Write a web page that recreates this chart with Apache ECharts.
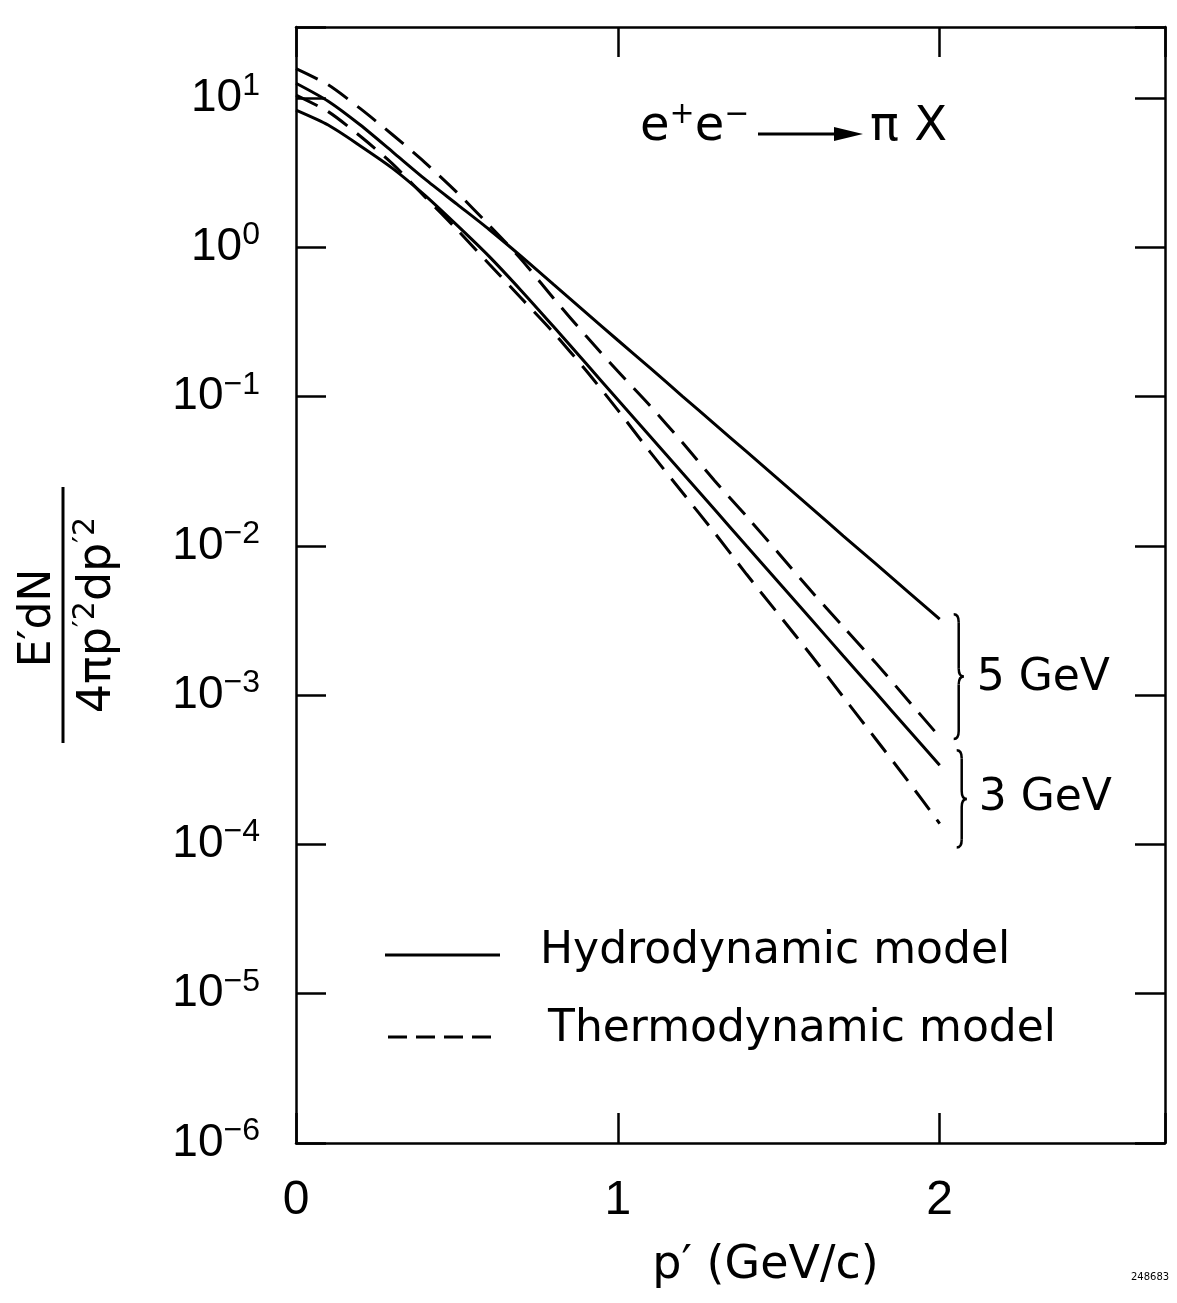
<!DOCTYPE html>
<html>
<head>
<meta charset="utf-8">
<script src="https://cdn.jsdelivr.net/npm/echarts@6.0.0/dist/echarts.min.js"></script>
<style>
  html, body { margin: 0; padding: 0; background: #fff; }
  #chart { width: 1177px; height: 1303px; }
</style>
</head>
<body>
<div id="chart"></div>
<script>
// p' in GeV/c
const momentum = [0, 0.1, 0.2, 0.3, 0.4, 0.5, 0.6, 0.7, 0.8, 0.9, 1.0,
                  1.1, 1.2, 1.3, 1.4, 1.5, 1.6, 1.7, 1.8, 1.9, 2.0];

// E'dN / 4πp'^2 dp'^2
const hydro5GeV = [12.6, 9.55, 6.61, 4.37, 2.88, 1.95, 1.32, 0.871, 0.566, 0.368, 0.239,
                   0.156, 0.101, 0.0658, 0.0428, 0.0278, 0.0181, 0.0117, 0.00764, 0.00497, 0.00323];
const thermo5GeV = [15.8, 12.3, 8.51, 5.69, 3.72, 2.34, 1.41, 0.832, 0.457, 0.257, 0.148,
                    0.0871, 0.0495, 0.0275, 0.0158, 0.00891, 0.00501, 0.00288, 0.00166, 0.000933, 0.000525];
const hydro3GeV = [8.32, 6.61, 4.79, 3.39, 2.24, 1.41, 0.871, 0.513, 0.295, 0.168, 0.0955,
                   0.0543, 0.0309, 0.0176, 0.0100, 0.00569, 0.00324, 0.00184, 0.00105, 0.000596, 0.000339];
const thermo3GeV = [10.5, 8.13, 5.56, 3.63, 2.19, 1.32, 0.776, 0.457, 0.269, 0.151, 0.0813,
                    0.0427, 0.0229, 0.0123, 0.00646, 0.00347, 0.00186, 0.000977, 0.000513, 0.000269, 0.000138];

const xRange = [0, 2.7];
const yRange = [1e-6, 30];

const legendLabels = ['Hydrodynamic model', 'Thermodynamic model'];
const energyLabels = ['5 GeV', '3 GeV'];
const xAxisTitle = 'p\u2032 (GeV/c)';

const NUM_FONT = "'Liberation Sans', sans-serif";
const TXT_FONT = "'DejaVu Sans', sans-serif";
const INK = '#000';

const axisLine = { show: true, onZero: false, lineStyle: { color: INK, width: 2.5 } };
const axisTick = { show: true, inside: true, length: 30, lineStyle: { color: INK, width: 2.5 } };

function powerLabel(v) {
  const e = Math.log10(v);
  const n = Math.round(e);
  if (Math.abs(e - n) > 1e-6) return '';
  const exp = n < 0 ? '\u2212' + (-n) : String(n);
  return '{b|10}{s|' + exp + '}';
}

function curve(name, values, dashed) {
  return {
    type: 'line',
    name: name,
    data: momentum.map((p, i) => [p, values[i]]),
    showSymbol: false,
    symbol: 'none',
    smooth: 0.25,
    silent: true,
    lineStyle: { color: INK, width: 3, type: dashed ? [24, 12] : 'solid', cap: 'butt' }
  };
}

const chart = echarts.init(document.getElementById('chart'), null, { renderer: 'canvas' });

chart.setOption({
  animation: false,
  backgroundColor: '#fff',
  grid: { left: 296, right: 12, top: 27, bottom: 160, containLabel: false },
  xAxis: [
    {
      type: 'value', min: xRange[0], max: xRange[1], interval: 1, position: 'bottom',
      axisLine: axisLine, axisTick: axisTick, splitLine: { show: false },
      axisLabel: {
        show: true, margin: 34, color: INK, fontSize: 48, fontFamily: NUM_FONT,
        formatter: v => (Number.isInteger(v) ? String(v) : '')
      },
      name: xAxisTitle, nameLocation: 'middle', nameGap: 100,
      nameTextStyle: { color: INK, fontSize: 46, fontFamily: TXT_FONT, padding: [0, 0, 0, 70] }
    },
    {
      type: 'value', min: xRange[0], max: xRange[1], interval: 1, position: 'top',
      axisLine: axisLine, axisTick: axisTick, splitLine: { show: false },
      axisLabel: { show: false }
    }
  ],
  yAxis: [
    {
      type: 'log', logBase: 10, min: yRange[0], max: yRange[1], position: 'left',
      axisLine: axisLine, axisTick: axisTick, splitLine: { show: false },
      minorTick: { show: false },
      axisLabel: {
        show: true, margin: 36, color: INK, formatter: powerLabel,
        rich: {
          b: { fontSize: 46, lineHeight: 56, fontFamily: NUM_FONT, color: INK },
          s: { fontSize: 32, lineHeight: 22, verticalAlign: 'top', fontFamily: NUM_FONT, color: INK }
        }
      }
    },
    {
      type: 'log', logBase: 10, min: yRange[0], max: yRange[1], position: 'right',
      axisLine: axisLine, axisTick: axisTick, splitLine: { show: false },
      minorTick: { show: false }, axisLabel: { show: false }
    }
  ],
  series: [
    curve('hydro 5 GeV', hydro5GeV, false),
    curve('thermo 5 GeV', thermo5GeV, true),
    curve('hydro 3 GeV', hydro3GeV, false),
    curve('thermo 3 GeV', thermo3GeV, true)
  ]
});

// Annotations placed after layout so the braces follow the curve ends.
const toPx = (x, y) => chart.convertToPixel({ xAxisIndex: 0, yAxisIndex: 0 }, [x, y]);
const last = arr => arr[arr.length - 1];
const pEnd = last(momentum);

// A right-pointing curly brace built from quadratic curves and straight runs.
function brace(x0, y1, y2, d) {
  const mid = (y1 + y2) / 2;
  const sx = x0 + d;
  const k = d * 1.6;
  const st = { stroke: INK, lineWidth: 2.5, fill: null };
  return {
    type: 'group',
    children: [
      { type: 'bezierCurve', shape: { x1: x0, y1: y1, cpx1: sx, cpy1: y1, x2: sx, y2: y1 + k }, style: st },
      { type: 'line', shape: { x1: sx, y1: y1 + k, x2: sx, y2: mid - k }, style: st },
      { type: 'bezierCurve', shape: { x1: sx, y1: mid - k, cpx1: sx, cpy1: mid, x2: sx + d, y2: mid }, style: st },
      { type: 'bezierCurve', shape: { x1: sx + d, y1: mid, cpx1: sx, cpy1: mid, x2: sx, y2: mid + k }, style: st },
      { type: 'line', shape: { x1: sx, y1: mid + k, x2: sx, y2: y2 - k }, style: st },
      { type: 'bezierCurve', shape: { x1: sx, y1: y2 - k, cpx1: sx, cpy1: y2, x2: x0, y2: y2 }, style: st }
    ]
  };
}

const a = toPx(pEnd, last(hydro5GeV));
const b = toPx(pEnd, last(thermo5GeV));
const c = toPx(pEnd, last(hydro3GeV));
const d = toPx(pEnd, last(thermo3GeV));

const brace5 = { x: a[0] + 14, top: a[1] - 5, bottom: b[1] + 2 };
const brace3 = { x: a[0] + 17, top: c[1] - 15, bottom: d[1] + 24 };

const textStyle = (x, y, text, size, family, align) => ({
  x: x, y: y, text: text, fill: INK,
  fontSize: size, fontFamily: family,
  align: align || 'left', textAlign: align || 'left',
  verticalAlign: 'middle', textVerticalAlign: 'middle'
});

chart.setOption({
  graphic: [
    // reaction label
    {
      type: 'text',
      style: Object.assign(textStyle(640, 128, '{e|e}{s|+}{e|e}{s|\u2212}', 48, TXT_FONT), {
        rich: {
          e: { fontSize: 48, lineHeight: 56, fontFamily: TXT_FONT, fill: INK },
          s: { fontSize: 30, lineHeight: 33, verticalAlign: 'top', fontFamily: TXT_FONT, fill: INK }
        }
      })
    },
    { type: 'line', shape: { x1: 758, y1: 134, x2: 842, y2: 134 }, style: { stroke: INK, lineWidth: 3 } },
    { type: 'polygon', shape: { points: [[834, 127], [863, 134], [834, 141]] }, style: { fill: INK } },
    { type: 'text', style: textStyle(870, 128, '\u03C0 X', 48, TXT_FONT) },

    // y-axis quantity as a fraction, reading upward
    {
      type: 'group', x: 63, y: 615, rotation: Math.PI / 2,
      children: [
        { type: 'line', shape: { x1: -128, y1: 0, x2: 128, y2: 0 }, style: { stroke: INK, lineWidth: 3 } },
        {
          type: 'text',
          style: {
            x: -3, y: -2, text: 'E\u2032dN', fill: INK, fontSize: 44, fontFamily: TXT_FONT,
            align: 'center', textAlign: 'center', verticalAlign: 'bottom', textVerticalAlign: 'bottom'
          }
        },
        {
          type: 'text',
          style: {
            x: 0, y: 8, text: '{t|4\u03C0p}{s|\u20322}{t|dp}{s|\u20322}', fill: INK,
            fontSize: 46, fontFamily: TXT_FONT,
            align: 'center', textAlign: 'center', verticalAlign: 'top', textVerticalAlign: 'top',
            rich: {
              t: { fontSize: 46, lineHeight: 54, fontFamily: TXT_FONT, fill: INK },
              s: { fontSize: 30, lineHeight: 26, verticalAlign: 'top', fontFamily: TXT_FONT, fill: INK }
            }
          }
        }
      ]
    },

    // legend
    { type: 'line', shape: { x1: 385, y1: 955, x2: 500, y2: 955 }, style: { stroke: INK, lineWidth: 3 } },
    { type: 'text', style: textStyle(540, 952, legendLabels[0], 44, TXT_FONT) },
    { type: 'line', shape: { x1: 388, y1: 1037, x2: 500, y2: 1037 }, style: { stroke: INK, lineWidth: 3, lineDash: [19, 9] } },
    { type: 'text', style: textStyle(548, 1030, legendLabels[1], 44, TXT_FONT) },

    // energy braces
    brace(brace5.x, brace5.top, brace5.bottom, 5),
    { type: 'text', style: textStyle(brace5.x + 23, (brace5.top + brace5.bottom) / 2 + 2, energyLabels[0], 44, TXT_FONT) },
    brace(brace3.x, brace3.top, brace3.bottom, 5),
    { type: 'text', style: textStyle(brace3.x + 22, (brace3.top + brace3.bottom) / 2, energyLabels[1], 44, TXT_FONT) },

    // figure number
    { type: 'text', style: textStyle(1131, 1277, '248683', 10, TXT_FONT) }
  ]
});
</script>
</body>
</html>
